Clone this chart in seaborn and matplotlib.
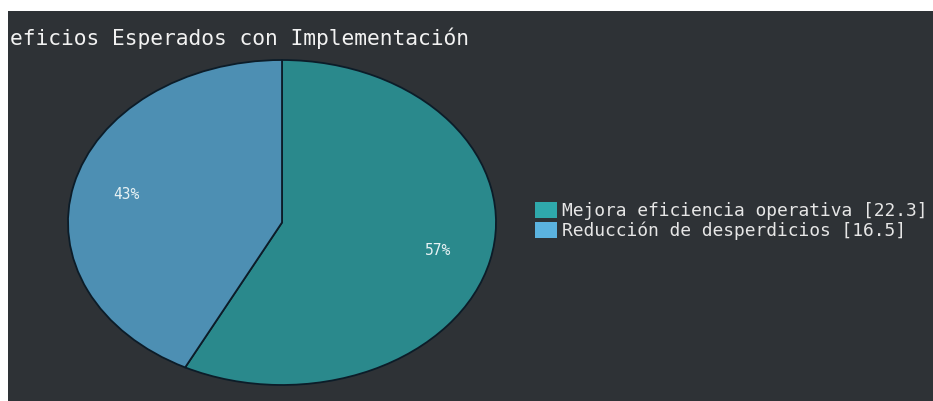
import matplotlib
matplotlib.use("Agg")
import matplotlib.pyplot as plt
import seaborn as sns
from matplotlib.patches import Rectangle, Patch

# Data
categories = ["Mejora eficiencia operativa", "Reducción de desperdicios"]
values = [22.3, 16.5]
title_text = "eficios Esperados con Implementación"

# Styles
pie_colors = ["#2a898c", "#4d8fb3"]
legend_colors = ["#2fa9ac", "#5bb3e0"]
bg = "#2e3236"

sns.set_theme(style="dark")
plt.rcParams["font.family"] = ["DejaVu Sans Mono", "DejaVu Sans"]

W, H = 933, 401
fig = plt.figure(figsize=(W / 100, H / 100), dpi=100, facecolor="white")

# dark panel (white strips on top and left)
fig.patches.append(Rectangle((8 / W, 0), 1 - 8 / W, 1 - 11 / H,
                             transform=fig.transFigure, facecolor=bg,
                             edgecolor="none", zorder=-5))

ax = fig.add_axes([68 / W, 16 / H, 428 / W, 325 / H])
ax.set_zorder(2)
ax.set_facecolor("none")
wedges, texts, autotexts = ax.pie(
    values, colors=pie_colors, startangle=90, counterclock=False,
    autopct="%.0f%%", pctdistance=0.75,
    wedgeprops=dict(edgecolor="#0c1c28", linewidth=1.3),
    textprops=dict(color="#e8f2f4", fontsize=10.5))
ax.set_aspect("auto")
ax.set_xlim(-1, 1)
ax.set_ylim(-1, 1)
ax.axis("off")

# title (the visible part of the cut-off title)
fig.text(10 / W, 1 - 45 / H, title_text, color="#f2f2f2", fontsize=15.3,
         ha="left", va="baseline", zorder=5)

handles = [Patch(facecolor=c, edgecolor="none") for c in legend_colors]
labels = [f"{c} [{v}]" for c, v in zip(categories, values)]
leg = fig.legend(handles, labels, loc="center left",
                 bbox_to_anchor=(535 / W, 1 - 221 / H), frameon=False,
                 borderpad=0, borderaxespad=0, handlelength=1.2,
                 handleheight=1.0, labelspacing=0.12, handletextpad=0.3,
                 fontsize=12.9, labelcolor="#e6e6e6")
leg.set_zorder(5)

fig.savefig("out.png", dpi=100, facecolor=fig.get_facecolor())
